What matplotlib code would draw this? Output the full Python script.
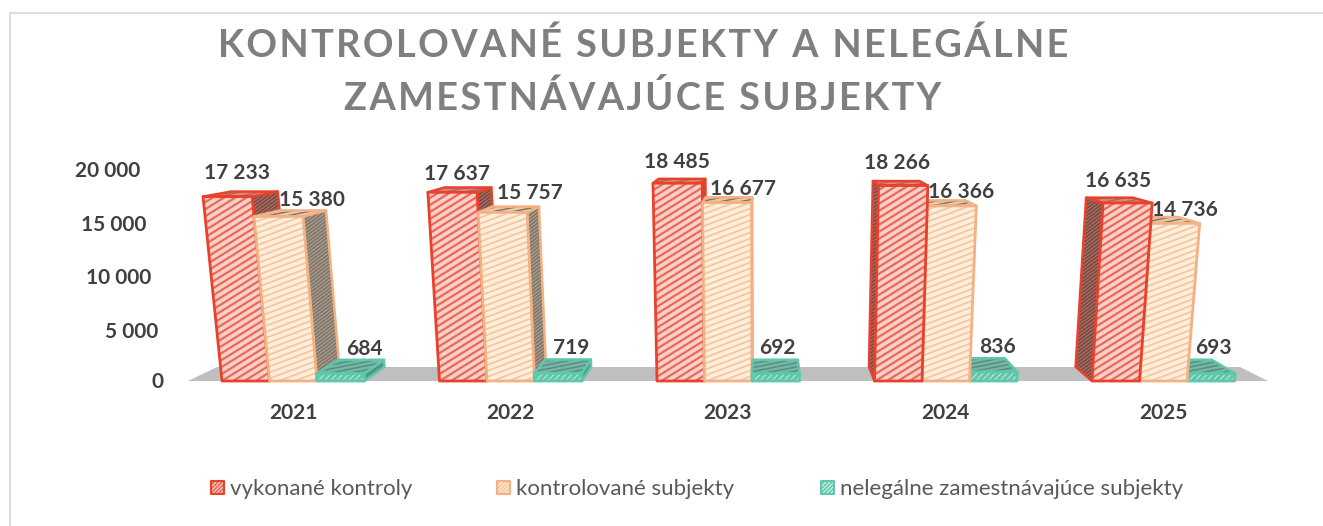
import matplotlib
matplotlib.use("Agg")
import matplotlib.pyplot as plt
from matplotlib.patches import Polygon
from matplotlib.collections import LineCollection
import numpy as np

plt.rcParams["font.family"] = ["Lato", "DejaVu Sans"]

years = ["2021", "2022", "2023", "2024", "2025"]
vykonane = [17233, 17637, 18485, 18266, 16635]
kontrolovane = [15380, 15757, 16677, 16366, 14736]
nelegalne = [684, 719, 692, 836, 693]
series_names = ["vykonané kontroly", "kontrolované subjekty", "nelegálne zamestnávajúce subjekty"]
value_labels = [
    ["17 233", "17 637", "18 485", "18 266", "16 635"],
    ["15 380", "15 757", "16 677", "16 366", "14 736"],
    ["684", "719", "692", "836", "693"],
]
y_tick_labels = ["0", "5 000", "10 000", "15 000", "20 000"]

# pozicie popiskov v pixeloch
label_xy = [
    [(237, 173), (457, 174), (677, 162), (897, 163), (1118, 181)],
    [(312, 200), (530, 193), (743, 189), (961, 192), (1185, 210)],
    [(364, 349), (571, 348), (777, 348), (997, 347), (1213, 348)],
]
tick_xy = [(163, 382), (158, 332), (151, 278), (146, 225), (140, 171)]

BASE_Y = 381
SCALE = 0.0107
VX, VY = 764, 96
LEAN = 0.00019
DEPTH = 0.05
FIRST_X = 222
GROUP_STEP = 217.5
BAR_W = 47.5

face_col = ["#fbd0c8", "#fdeedd", "#dff5ee"]
line_col = ["#e8412c", "#f4b183", "#5fc8ac"]
hatch_col = ["#e96a58", "#f7c79c", "#5fc8ac"]
side_col = ["#6e4a48", "#a89a8c", "#5f9c8a"]
top_col = ["#d98a7e", "#e8c9a8", "#79b5a5"]
hatch_side = ["#b06a5c", "#7d7468", "#4f8f7e"]
slopes = [0.62, 0.38, 1.0]
hatch_gap = [7.0, 6.0, 6.0]
hatch_lw = [1.6, 1.3, 2.5]

fig = plt.figure(figsize=(13.23, 5.26), dpi=100)
ax = fig.add_axes([0, 0, 1, 1])
ax.set_xlim(0, 1323)
ax.set_ylim(526, 0)
ax.axis("off")


def front(x, value):
    h = value * SCALE
    return (x + (x - VX) * LEAN * h, BASE_Y - h)


def back(p):
    return (p[0] + (VX - p[0]) * DEPTH, p[1] + (VY - p[1]) * DEPTH)


def hatched(pts, fc, ec, hc, slope, gap=5.0, lw=1.0, z=3, edge=1.8):
    pts = np.array(pts)
    ax.add_patch(Polygon(pts, closed=True, facecolor=fc, edgecolor="none", zorder=z))
    x0, x1 = pts[:, 0].min(), pts[:, 0].max()
    y0, y1 = pts[:, 1].min(), pts[:, 1].max()
    # sikme srafovanie orezane na plochu
    w = x1 - x0
    c = np.arange(y0, y1 + slope * w + gap, gap)
    segs = [[(x0, v), (x1, v - slope * w)] for v in c]
    clip = Polygon(pts, closed=True, transform=ax.transData)
    lc = LineCollection(segs, colors=hc, linewidths=lw, zorder=z)
    ax.add_collection(lc)
    lc.set_clip_path(clip)
    ax.add_patch(Polygon(pts, closed=True, fill=False, edgecolor=ec, linewidth=edge,
                         joinstyle="round", zorder=z))


def draw_bar(x, value, s, z):
    fl, fr = front(x, 0), front(x + BAR_W, 0)
    tl, tr = front(x, value), front(x + BAR_W, value)
    bl, br = back(fl), back(fr)
    btl, btr = back(tl), back(tr)
    # bocna stena smerom k stredu pohladu, stredovy stlpec ju nema
    side = None
    if x + BAR_W < VX:
        side = [fr, tr, btr, br]
    elif x > VX:
        side = [fl, tl, btl, bl]
    if side is not None:
        hatched(side, side_col[s], line_col[s], hatch_side[s], 0.75, gap=3.5, z=z)
    hatched([tl, tr, btr, btl], top_col[s], line_col[s], hatch_side[s], 0.2, gap=4, z=z)
    hatched([fl, fr, tr, tl], face_col[s], line_col[s], hatch_col[s], slopes[s],
            gap=hatch_gap[s], lw=hatch_lw[s], z=z + 0.5, edge=2.0)


# ram grafu
ax.plot([10, 10, 1323], [526, 12.5, 12.5], color="#d9d9d9", lw=1.3, zorder=1)

# podlaha
ax.add_patch(Polygon([(188, BASE_Y), (1268, BASE_Y), (1240, 367), (217, 367)],
                     closed=True, facecolor="#bfbfbf", edgecolor="none", zorder=2))

series = [vykonane, kontrolovane, nelegalne]
z = 3
for g in range(len(years)):
    x0 = FIRST_X + g * GROUP_STEP
    order = [0, 1, 2] if x0 < VX else [2, 1, 0]
    for s in order:
        draw_bar(x0 + s * BAR_W, series[s][g], s, z)
        z += 1

for s in range(3):
    for g in range(5):
        ax.text(*label_xy[s][g], value_labels[s][g], fontsize=15, fontweight="bold",
                color="#404040", ha="center", va="center", zorder=100)

for lab, (tx, ty) in zip(y_tick_labels, tick_xy):
    ax.text(tx, ty, lab, fontsize=15, fontweight="bold", color="#404040",
            ha="right", va="center")

for g, yr in enumerate(years):
    ax.text(FIRST_X + g * GROUP_STEP + 71, 413, yr, fontsize=15, fontweight="bold",
            color="#404040", ha="center", va="center")

# nadpis s rozostupom pismen cez tenke medzery
t1 = "KONTROLOVANÉ SUBJEKTY A NELEGÁLNE"
t2 = "ZAMESTNÁVAJÚCE SUBJEKTY"
for t, y in zip([t1, t2], [57, 110]):
    ax.text(643, y, "\u200a".join(t), fontsize=27.4, fontweight="bold", color="#7f7f7f",
            ha="center", va="baseline")

# legenda
legend_x = [211, 497, 821]
for s, lx in enumerate(legend_x):
    hatched([(lx, 481), (lx + 13, 481), (lx + 13, 494), (lx, 494)], face_col[s],
            line_col[s], hatch_col[s], 1.0, gap=4, lw=1.2, z=5, edge=1.5)
    ax.text(lx + 19, 489, series_names[s], fontsize=16, color="#595959",
            ha="left", va="center")

fig.savefig("out.png", dpi=100)
